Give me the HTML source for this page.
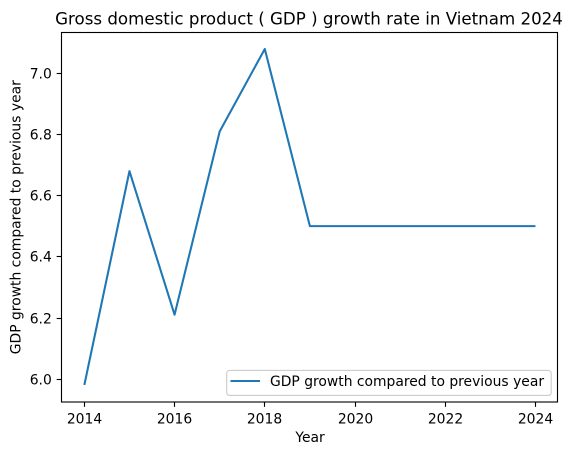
<!DOCTYPE html>
<html>
<head>
<meta charset="utf-8">
<style>
html,body{margin:0;padding:0;background:#fff;}
svg{display:block;}
text{font-family:"DejaVu Sans",sans-serif;fill:#000;}
</style>
</head>
<body>
<svg id="chart" xmlns="http://www.w3.org/2000/svg" width="572" height="455" viewBox="0 0 572 455">
<rect x="0" y="0" width="572" height="455" fill="#fff"/>
<text x="309" y="24.5" font-size="16.67" text-anchor="middle">Gross domestic product ( GDP ) growth rate in Vietnam 2024</text>
<text x="310" y="442" font-size="13.89" text-anchor="middle">Year</text>
<text transform="translate(20.5,217.2) rotate(-90)" font-size="13.89" text-anchor="middle">GDP growth compared to previous year</text>
<g id="ticks"></g>
<g id="series"></g>
<rect x="61.5" y="32.5" width="496" height="369.5" fill="none" stroke="#000" stroke-width="1.11"/>
<g>
<rect x="226.7" y="370.4" width="324.5" height="25" rx="2.8" fill="#fff" fill-opacity="0.8" stroke="#ccc" stroke-width="1.11"/>
<line x1="230.5" x2="260" y1="381" y2="381" stroke="#1f77b4" stroke-width="2.08"/>
<text x="270" y="386" font-size="13.89">GDP growth compared to previous year</text>
</g>
</svg>
<script>
const years = [2014, 2015, 2016, 2017, 2018, 2019, 2020, 2021, 2022, 2023, 2024];
const growth = [5.98, 6.68, 6.21, 6.81, 7.08, 6.5, 6.5, 6.5, 6.5, 6.5, 6.5];
const xTickLabels = [2014, 2016, 2018, 2020, 2022, 2024];
const yTickLabels = ["6.0", "6.2", "6.4", "6.6", "6.8", "7.0"];

const NS = 'http://www.w3.org/2000/svg';
const box = {left: 61.8, right: 558, top: 32.5, bottom: 402};
const lineShiftY = -0.3;
const xMin = Math.min(...years), xMax = Math.max(...years);
const yMin = Math.min(...growth), yMax = Math.max(...growth);
const xPad = (xMax - xMin) * 0.05, yPad = (yMax - yMin) * 0.05;
function xScale(v) {
  return box.left + (v - (xMin - xPad)) / ((xMax + xPad) - (xMin - xPad)) * (box.right - box.left);
}
function yScale(v) {
  return box.bottom - (v - (yMin - yPad)) / ((yMax + yPad) - (yMin - yPad)) * (box.bottom - box.top);
}
function snap(v) {
  return Math.floor(v) + 0.5;
}
function make(tag, attrs) {
  const el = document.createElementNS(NS, tag);
  for (const k in attrs) el.setAttribute(k, attrs[k]);
  return el;
}
const ticks = document.getElementById('ticks');
const series = document.getElementById('series');

xTickLabels.forEach(function (t) {
  const px = snap(xScale(t));
  const mark = make('line', {x1: px, x2: px, y1: box.bottom, y2: box.bottom + 4.86, stroke: '#000', 'stroke-width': 1.11});
  
  
  ticks.appendChild(mark);
  const label = make('text', {x: px, y: 423.5, 'font-size': 13.89, 'text-anchor': 'middle'});
  
  
  label.textContent = t;
  ticks.appendChild(label);
});

yTickLabels.forEach(function (t) {
  const py = snap(yScale(parseFloat(t)));
  const mark = make('line', {x1: 61.5 - 4.86, x2: 61.5, y1: py, y2: py, stroke: '#000', 'stroke-width': 1.11});
  
  
  ticks.appendChild(mark);
  const label = make('text', {x: 61.5 - 9.7, y: py + 5.2, 'font-size': 13.89, 'text-anchor': 'end'});
  
  
  label.textContent = t;
  ticks.appendChild(label);
});

const points = years.map(function (y, i) {
  return xScale(y) + ',' + (yScale(growth[i]) + lineShiftY);
}).join(' ');
const line = make('polyline', {points: points, fill: 'none', stroke: '#1f77b4', 'stroke-width': 2.08, 'stroke-linejoin': 'round', 'stroke-linecap': 'butt'});


series.appendChild(line);
</script>
</body>
</html>
